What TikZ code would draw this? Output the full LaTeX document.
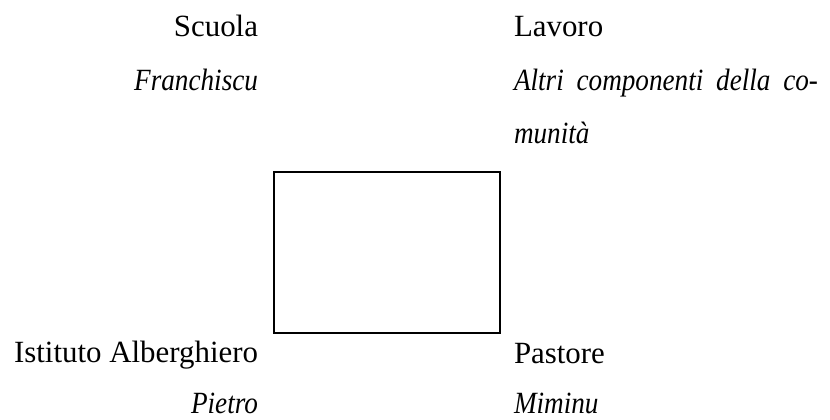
\documentclass[tikz,border=0pt]{standalone}
\usepackage{fontspec}
\usepackage{graphicx}
\setmainfont{Liberation Serif}
\newcommand{\itx}[1]{\scalebox{0.88}[1]{\itshape #1}}
\tikzset{
  lbl/.style={inner sep=0pt, outer sep=0pt, font=\fontsize{31}{37}\selectfont},
  lblr/.style={lbl, anchor=base east},
  lbll/.style={lbl, anchor=base west},
  frame/.style={draw=black, line width=2bp, inner sep=0pt, minimum width=226bp, minimum height=161bp}
}
\begin{document}
\begin{tikzpicture}[x=1bp, y=-1bp]
  \useasboundingbox (0,0) rectangle (830,419);
  \node[lblr] (scuola) at (258,36) {Scuola};
  \node[lblr] (franchiscu) at (258,90) {\itx{Franchiscu}};
  \node[lbll] (lavoro) at (514,36) {Lavoro};
  \node[lbll] (altri) at (514,90) {\hbox to 304bp{\itx{Altri}\hfil\itx{componenti}\hfil\itx{della}\hfil\itx{co-}}};
  \node[lbll] (comunita) at (514,143) {\itx{munità}};
  \node[frame] (box) at (387.4,252.5) {};
  \node[lblr] (istituto) at (258,362) {Istituto Alberghiero};
  \node[lblr] (pietro) at (258,413) {\itx{Pietro}};
  \node[lbll] (pastore) at (514,363) {Pastore};
  \node[lbll] (miminu) at (514,413) {\itx{Miminu}};
\end{tikzpicture}
\end{document}
